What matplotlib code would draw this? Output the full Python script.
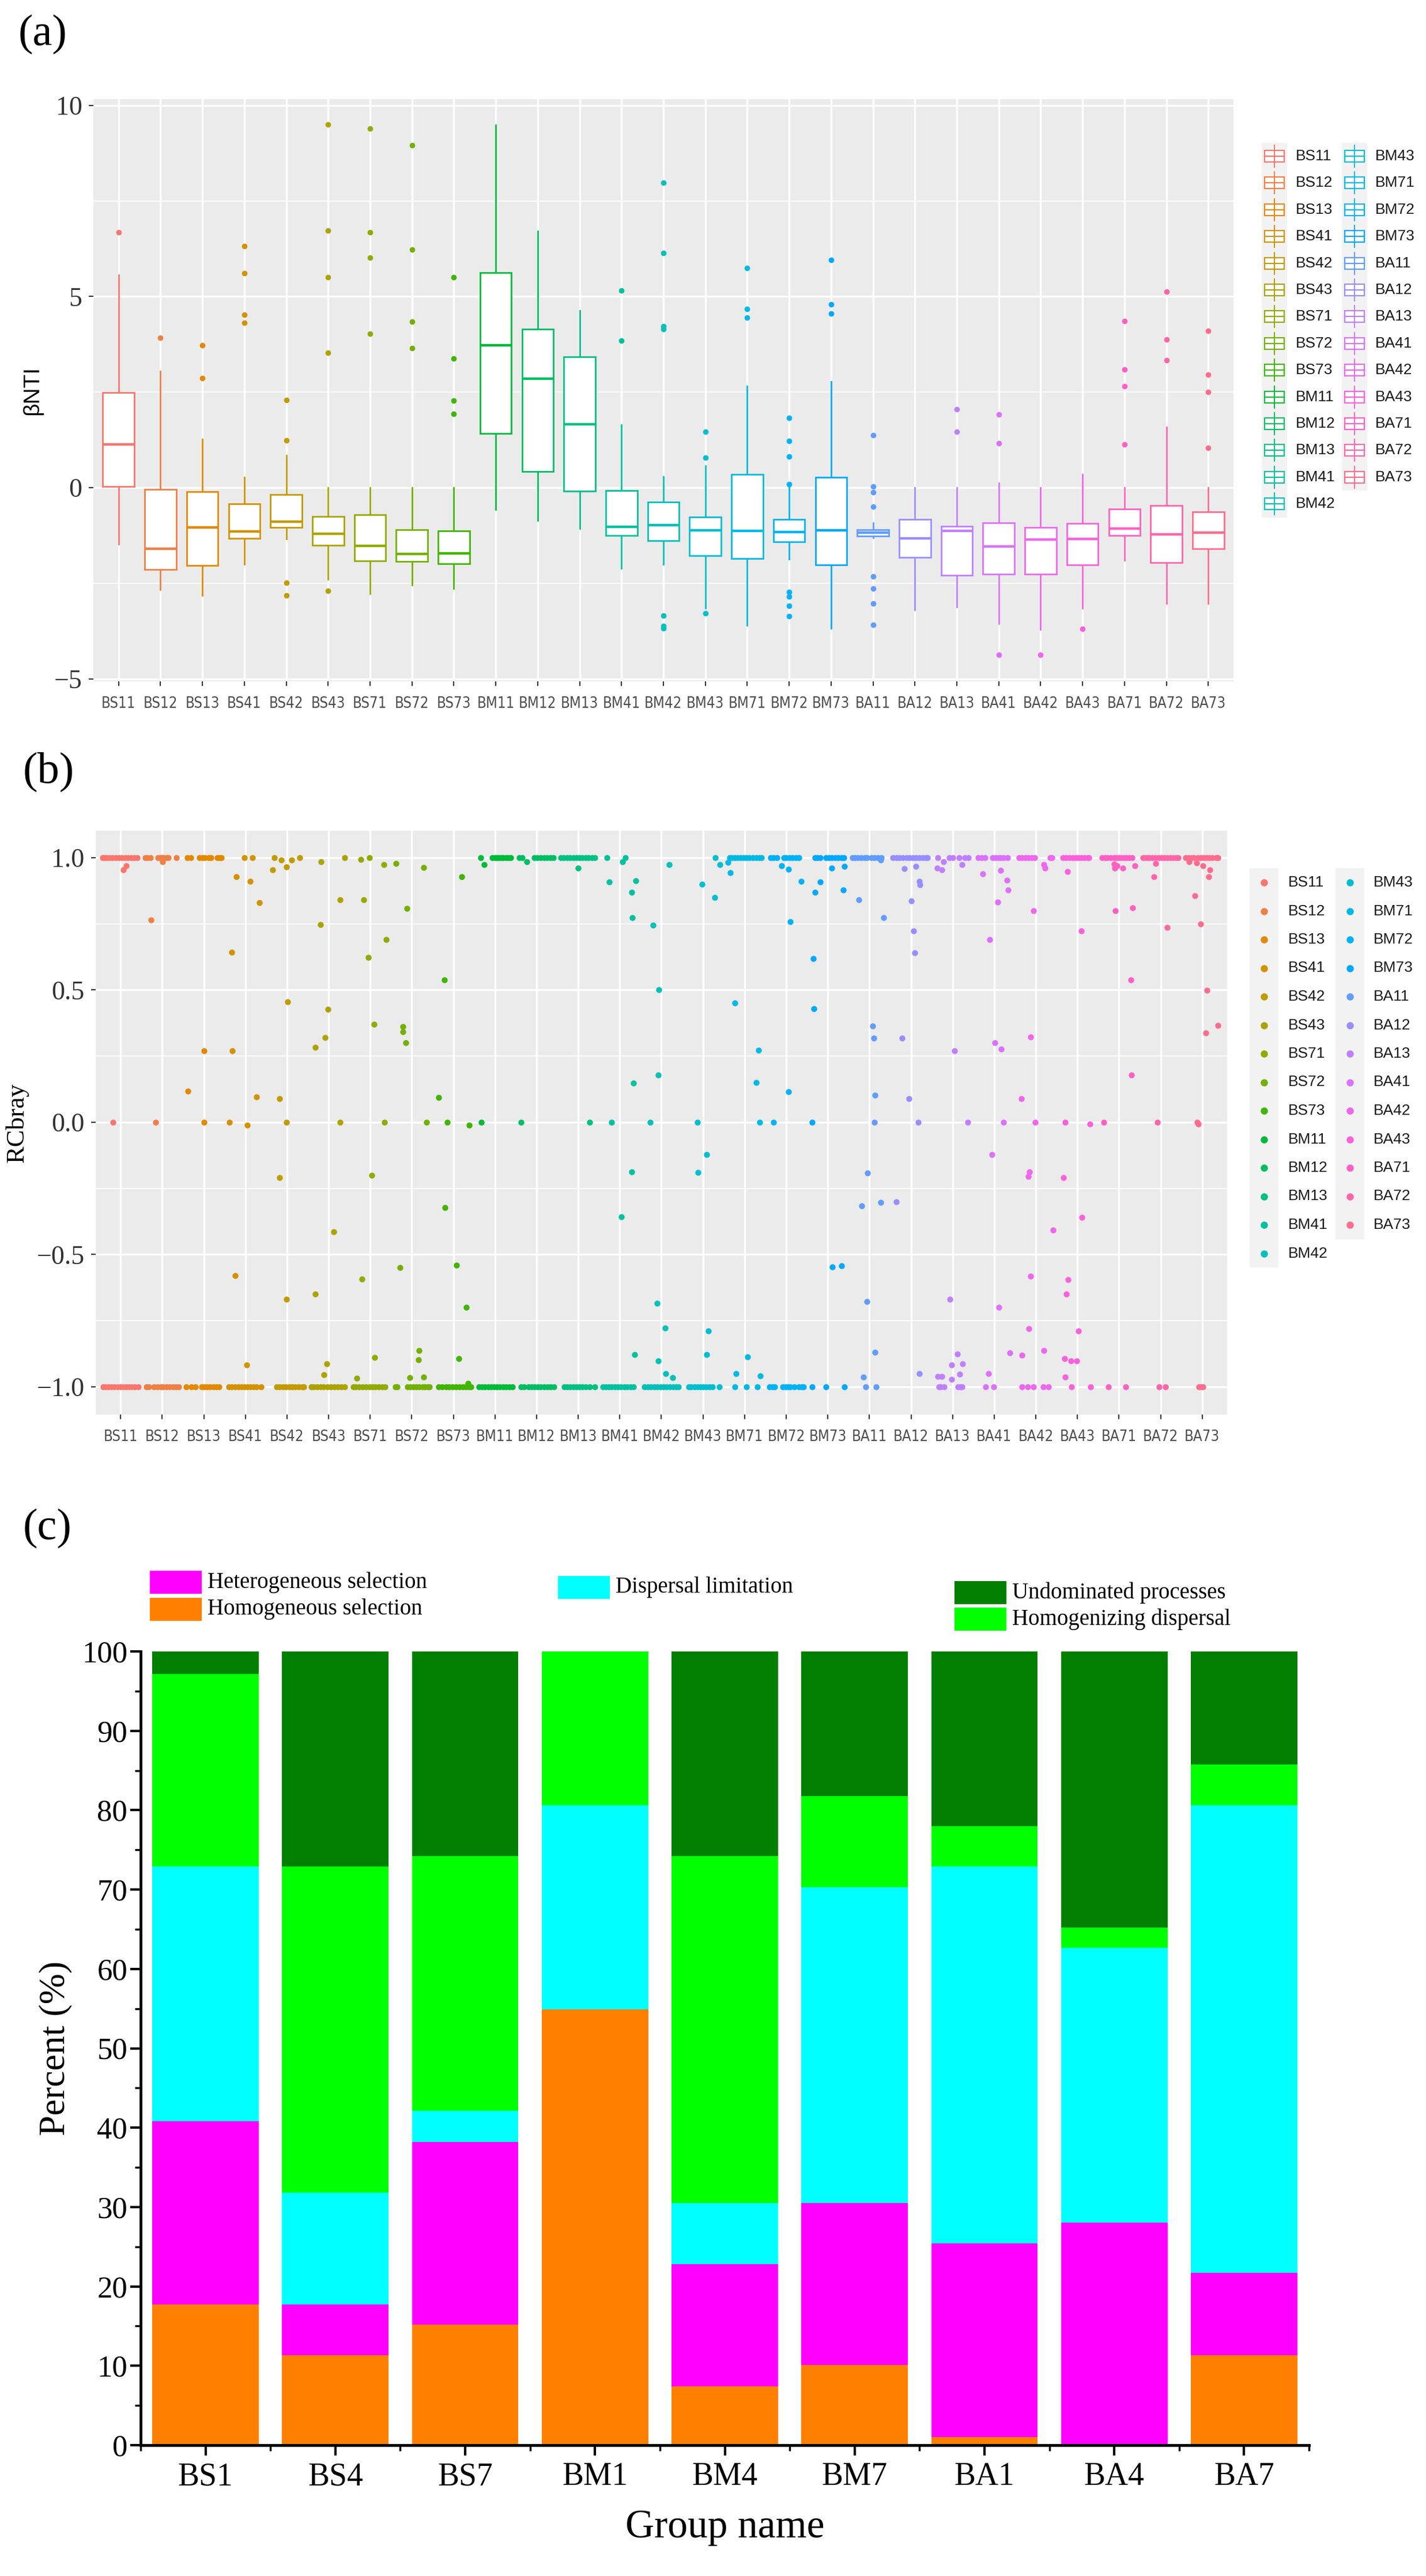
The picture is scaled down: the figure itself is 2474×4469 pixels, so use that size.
import numpy as np
import matplotlib
matplotlib.use("Agg")
import matplotlib.pyplot as plt
from matplotlib.patches import Rectangle
from matplotlib import font_manager as fm
from matplotlib.ticker import MultipleLocator

W, H = 2474, 4469
SERIF = "Liberation Serif"
SANS = "Liberation Sans"

# ---------------- data: (a) betaNTI boxplots ----------------
groups = ["BS11", "BS12", "BS13", "BS41", "BS42", "BS43", "BS71", "BS72", "BS73",
          "BM11", "BM12", "BM13", "BM41", "BM42", "BM43", "BM71", "BM72", "BM73",
          "BA11", "BA12", "BA13", "BA41", "BA42", "BA43", "BA71", "BA72", "BA73"]
bnti_lo = [-1.47, -2.67, -2.81, -2.00, -1.34, -2.39, -2.77, -2.55, -2.64,
           -0.57, -0.85, -1.07, -2.11, -2.00, -3.15, -3.60, -1.86, -3.67,
           -1.31, -3.19, -3.12, -3.56, -3.70, -3.14, -1.89, -3.02, -3.02]
bnti_q1 = [0.04, -2.13, -2.03, -1.32, -1.04, -1.50, -1.91, -1.93, -1.98,
           1.42, 0.42, -0.08, -1.25, -1.39, -1.77, -1.85, -1.41, -2.02,
           -1.27, -1.82, -2.28, -2.25, -2.25, -2.02, -1.24, -1.96, -1.59]
bnti_med = [1.13, -1.59, -1.03, -1.14, -0.88, -1.20, -1.52, -1.73, -1.71,
            3.73, 2.85, 1.66, -1.02, -0.97, -1.11, -1.13, -1.15, -1.11,
            -1.17, -1.32, -1.13, -1.53, -1.36, -1.34, -1.06, -1.22, -1.17]
bnti_q3 = [2.49, -0.04, -0.10, -0.42, -0.18, -0.75, -0.70, -1.10, -1.13,
           5.62, 4.15, 3.42, -0.07, -0.38, -0.77, 0.35, -0.83, 0.28,
           -1.10, -0.83, -1.00, -0.92, -1.04, -0.93, -0.56, -0.47, -0.63]
bnti_hi = [5.57, 3.05, 1.27, 0.28, 0.85, 0.00, 0.00, 0.00, 0.00,
           9.48, 6.71, 4.63, 1.64, 0.29, 0.57, 2.66, 0.00, 2.77,
           -0.92, 0.00, 0.00, 0.13, 0.00, 0.35, 0.00, 1.59, 0.00]
bnti_out = [[6.68], [3.92], [3.73, 2.87], [6.32, 5.61, 4.52, 4.31],
            [2.30, 1.24, -2.49, -2.81], [9.49, 6.73, 5.50, 3.53, -2.70],
            [9.39, 6.68, 6.01, 4.02], [8.96, 6.23, 4.34, 3.65], [5.51, 3.38, 2.28, 1.93],
            [], [], [], [5.15, 3.85],
            [7.97, 6.14, 4.23, 4.15, -3.34, -3.62, -3.67], [1.47, 0.78, -3.28],
            [5.75, 4.68, 4.45], [1.82, 1.22, 0.82, 0.10, -2.73, -2.84, -3.09, -3.35],
            [5.96, 4.80, 4.56],
            [1.38, 0.04, -0.11, -0.49, -2.32, -2.63, -3.02, -3.58], [],
            [2.06, 1.46], [1.91, 1.17, -4.37], [-4.37], [-3.69],
            [4.36, 3.10, 2.66, 1.14], [5.13, 3.87, 3.34], [4.10, 2.96, 2.50, 1.04]]

# ---------------- data: (b) RCbray jittered points ----------------
# per group: jitter offsets of points at 1.0, at -1.0, and other (offset, value) points
rc_top = [
    [-0.43, -0.39, -0.33, -0.27, -0.2, -0.12, -0.05, 0.02, 0.1, 0.18, 0.26, 0.33, 0.4],
    [-0.41, -0.35, -0.29, -0.1, -0.05, 0.0, 0.04, 0.1, 0.15, 0.34],
    [-0.39, -0.32, -0.1, -0.04, 0.02, 0.12, 0.17, 0.33, 0.38, 0.42],
    [-0.02, 0.17],
    [-0.31, 0.31],
    [0.38],
    [-0.02],
    [],
    [],
    [-0.34, -0.06, 0.0, 0.05, 0.1, 0.15, 0.2, 0.26, 0.32, 0.38],
    [-0.41, -0.35, -0.05, 0.02, 0.1, 0.18, 0.25, 0.33, 0.4],
    [-0.42, -0.35, -0.27, -0.2, -0.12, -0.05, 0.03, 0.1, 0.18, 0.25, 0.33, 0.4],
    [-0.31, 0.13],
    [],
    [0.3],
    [-0.36, -0.3, -0.23, -0.16, -0.1, -0.02, 0.05, 0.12, 0.2, 0.28, 0.35, 0.4],
    [-0.37, -0.3, -0.22, -0.06, 0.0, 0.08, 0.15, 0.23, 0.31],
    [-0.31, -0.25, -0.18, -0.05, 0.02, 0.1, 0.18, 0.25, 0.33, 0.38],
    [-0.41, -0.35, -0.28, -0.2, -0.12, -0.06, 0.05, 0.12, 0.2, 0.28],
    [-0.43, -0.36, -0.28, -0.2, -0.1, -0.03, 0.05, 0.12, 0.2, 0.28, 0.35, 0.4],
    [-0.36, -0.08, 0.0, 0.15, 0.3, 0.38],
    [-0.38, -0.3, -0.22, -0.04, 0.03, 0.1, 0.16, 0.23, 0.32],
    [-0.4, -0.33, -0.25, -0.18, -0.1, -0.03, 0.35, 0.39],
    [-0.35, -0.28, -0.2, -0.12, -0.05, 0.02, 0.1, 0.17, 0.25, 0.28],
    [-0.4, -0.34, -0.28, -0.2, -0.12, -0.06, 0.0, 0.05, 0.12, 0.18, 0.25, 0.32],
    [-0.42, -0.38, -0.33, -0.27, -0.2, -0.13, -0.05, 0.02, 0.09, 0.16, 0.23, 0.3, 0.37, 0.42],
    [-0.4, -0.33, -0.26, -0.2, -0.1, -0.04, 0.03, 0.1, 0.17, 0.24, 0.33, 0.38],
]
rc_bot = [
    [-0.42, -0.36, -0.3, -0.22, -0.15, -0.08, 0.0, 0.07, 0.14, 0.2, 0.27, 0.34, 0.42],
    [-0.38, -0.32, -0.2, -0.12, -0.04, 0.02, 0.1, 0.17, 0.25, 0.32, 0.4],
    [-0.42, -0.3, -0.2, -0.05, 0.0, 0.08, 0.15, 0.22, 0.3, 0.37],
    [-0.4, -0.33, -0.25, -0.17, -0.1, -0.02, 0.05, 0.12, 0.2, 0.27, 0.37],
    [-0.25, -0.18, -0.1, -0.03, 0.05, 0.12, 0.2, 0.28, 0.36, 0.4],
    [-0.42, -0.36, -0.28, -0.2, -0.12, -0.03, 0.05, 0.13, 0.22, 0.3, 0.38],
    [-0.41, -0.35, -0.27, -0.18, -0.1, -0.02, 0.05, 0.12, 0.2, 0.28, 0.35],
    [-0.4, -0.36, -0.1, -0.04, 0.03, 0.1, 0.18, 0.25, 0.31, 0.38, 0.42],
    [-0.35, -0.27, -0.18, -0.1, -0.02, 0.06, 0.14, 0.22, 0.3, 0.37, 0.42],
    [-0.38, -0.32, -0.25, -0.17, -0.1, -0.02, 0.05, 0.12, 0.2, 0.27, 0.35, 0.42],
    [-0.37, -0.3, -0.2, -0.12, -0.05, 0.03, 0.1, 0.18, 0.26, 0.33, 0.41],
    [-0.34, -0.27, -0.2, -0.12, -0.05, 0.02, 0.1, 0.18, 0.27, 0.4],
    [-0.41, -0.34, -0.27, -0.2, -0.12, -0.05, 0.03, 0.1, 0.18, 0.26, 0.33],
    [-0.41, -0.33, -0.25, -0.17, -0.1, -0.02, 0.05, 0.12, 0.2, 0.28, 0.35, 0.41],
    [-0.34, -0.28, -0.2, -0.13, -0.06, 0.0, 0.07, 0.16, 0.22, 0.39],
    [-0.24, 0.05, 0.31],
    [-0.4, -0.33, -0.28, -0.08, -0.02, 0.04, 0.1, 0.2, 0.3, 0.38, 0.42],
    [-0.37, -0.04, 0.4],
    [-0.09, 0.16],
    [],
    [-0.33, -0.28, -0.2, 0.13, 0.18, 0.22],
    [-0.21, -0.01],
    [-0.33, -0.2, -0.06, 0.18, 0.3],
    [-0.14, 0.31],
    [-0.25, 0.16],
    [-0.04, 0.12],
    [-0.08, -0.03, 0.02],
]
rc_mid = [
    [(0.13, 0.97), (0.06, 0.953), (-0.18, 0.0)],
    [(0.01, 0.985), (-0.27, 0.765), (-0.16, 0.0)],
    [(-0.38, 0.117), (0.01, 0.27), (0.0, 0.0)],
    [(-0.22, 0.928), (0.11, 0.91), (0.33, 0.83), (-0.33, 0.643), (-0.31, 0.27), (0.26, 0.096),
     (-0.38, 0.0), (0.05, -0.011), (-0.24, -0.58), (0.03, -0.918)],
    [(-0.14, 0.99), (0.11, 0.99), (-0.34, 0.953), (-0.02, 0.964), (0.01, 0.454), (-0.18, 0.089),
     (-0.02, 0.0), (-0.18, -0.209), (-0.02, -0.67)],
    [(-0.18, 0.984), (-0.2, 0.746), (0.28, 0.84), (-0.01, 0.427), (-0.09, 0.319), (-0.32, 0.282),
     (0.28, 0.0), (0.12, -0.414), (-0.32, -0.649), (-0.05, -0.914), (-0.11, -0.954)],
    [(-0.22, 0.993), (0.33, 0.973), (-0.16, 0.84), (0.39, 0.69), (-0.05, 0.623), (0.09, 0.371),
     (0.34, 0.0), (0.04, -0.2), (-0.2, -0.592), (0.1, -0.89), (-0.32, -0.968)],
    [(-0.38, 0.978), (0.28, 0.963), (-0.12, 0.807), (-0.21, 0.361), (-0.21, 0.342), (-0.15, 0.30),
     (0.36, 0.0), (-0.28, -0.549), (0.17, -0.864), (0.16, -0.898), (-0.05, -0.966), (0.28, -0.964)],
    [(0.2, 0.928), (-0.22, 0.537), (-0.36, 0.093), (-0.15, 0.0), (0.38, -0.011), (-0.2, -0.322),
     (0.08, -0.54), (0.31, -0.70), (0.13, -0.894), (0.35, -0.987)],
    [(-0.26, 0.974), (-0.33, 0.0)],
    [(-0.24, 0.985), (-0.37, 0.0)],
    [(0.0, 0.96), (0.28, 0.0)],
    [(0.06, 0.985), (-0.26, 0.908), (0.28, 0.868), (0.38, 0.913), (0.3, 0.772), (-0.2, 0.0),
     (0.33, 0.148), (0.28, -0.188), (0.04, -0.358), (0.36, -0.878)],
    [(0.19, 0.973), (-0.2, 0.744), (-0.06, 0.501), (-0.07, 0.178), (-0.27, 0.0), (-0.1, -0.685),
     (0.09, -0.779), (-0.08, -0.903), (0.11, -0.951), (0.27, -0.966)],
    [(-0.02, 0.9), (0.28, 0.85), (0.41, 0.973), (-0.14, 0.0), (0.09, -0.122), (-0.12, -0.189),
     (0.13, -0.79), (0.09, -0.878)],
    [(-0.4, 0.983), (-0.34, 0.943), (-0.24, 0.45), (0.33, 0.272), (0.28, 0.15), (0.36, 0.0),
     (0.07, -0.888), (-0.21, -0.951), (0.38, -0.96)],
    [(-0.11, 0.97), (0.05, 0.957), (0.36, 0.91), (0.09, 0.758), (0.05, 0.116), (-0.31, 0.0)],
    [(-0.31, 0.868), (-0.18, 0.908), (0.09, 0.96), (0.4, 0.967), (0.37, 0.877), (-0.35, 0.619),
     (-0.33, 0.428), (-0.38, 0.0), (0.11, -0.547), (0.33, -0.543)],
    [(0.27, 0.99), (-0.25, 0.841), (0.34, 0.774), (0.08, 0.364), (0.11, 0.318), (0.13, 0.102),
     (0.12, 0.0), (-0.04, -0.192), (-0.19, -0.317), (0.27, -0.304), (-0.06, -0.679),
     (0.14, -0.87), (-0.15, -0.964)],
    [(-0.16, 0.958), (0.12, 0.967), (0.2, 0.91), (0.22, 0.897), (0.0, 0.837), (0.06, 0.722),
     (0.09, 0.64), (-0.21, 0.318), (-0.05, 0.09), (0.17, 0.0), (-0.35, -0.302), (0.2, -0.95)],
    [(-0.22, 0.985), (0.22, 0.973), (-0.37, 0.96), (-0.26, 0.953), (0.05, 0.27), (0.37, 0.0),
     (-0.07, -0.669), (0.11, -0.877), (0.24, -0.913), (-0.02, -0.918), (0.17, -0.953),
     (-0.35, -0.961), (-0.26, -0.961), (-0.02, -0.973)],
    [(-0.28, 0.938), (0.15, 0.951), (0.31, 0.914), (0.33, 0.878), (0.09, 0.831), (-0.11, 0.69),
     (0.02, 0.30), (0.17, 0.277), (0.23, 0.0), (-0.05, -0.122), (0.11, -0.70), (0.37, -0.872),
     (-0.14, -0.951)],
    [(0.2, 0.973), (0.22, 0.96), (-0.05, 0.8), (-0.13, 0.322), (-0.34, 0.09), (-0.02, 0.0),
     (-0.15, -0.188), (-0.18, -0.205), (0.41, -0.408), (-0.13, -0.582), (-0.17, -0.78),
     (0.2, -0.864), (-0.33, -0.88)],
    [(-0.24, 0.947), (0.09, 0.722), (-0.29, 0.0), (0.3, -0.007), (-0.34, -0.209), (0.11, -0.36),
     (-0.22, -0.595), (-0.27, -0.649), (0.02, -0.79), (-0.31, -0.893), (-0.16, -0.903),
     (-0.02, -0.903), (-0.29, -0.964)],
    [(-0.12, 0.975), (-0.05, 0.97), (-0.1, 0.96), (0.09, 0.96), (0.38, 0.97), (-0.09, 0.80),
     (0.33, 0.81), (0.28, 0.537), (0.3, 0.179), (-0.36, 0.0)],
    [(-0.12, 0.978), (-0.16, 0.927), (0.16, 0.736), (-0.07, 0.0)],
    [(-0.31, 0.985), (-0.13, 0.98), (0.02, 0.97), (0.18, 0.953), (0.15, 0.927), (-0.18, 0.855),
     (-0.04, 0.748), (0.11, 0.499), (0.38, 0.365), (0.09, 0.337), (-0.09, -0.006), (-0.12, 0.0)],
]

# ---------------- data: (c) stacked process percentages ----------------
groups_c = ["BS1", "BS4", "BS7", "BM1", "BM4", "BM7", "BA1", "BA4", "BA7"]
homog_sel = [17.7, 11.3, 15.2, 54.9, 7.4, 10.1, 1.0, 0.0, 11.3]
heterog_sel = [23.1, 6.4, 23.0, 0.0, 15.4, 20.4, 24.4, 28.0, 10.4]
disp_lim = [32.1, 14.1, 3.9, 25.7, 7.7, 39.8, 47.5, 34.7, 58.9]
homogenizing = [24.3, 41.1, 32.1, 19.4, 43.7, 11.5, 5.1, 2.5, 5.2]
undominated = [2.8, 27.1, 25.8, 0.0, 25.8, 18.2, 22.0, 34.8, 14.2]


def hue_pal(n, c=100.0, l=65.0):
    # ggplot2 default discrete palette (polar Luv, D65)
    Xn, Yn, Zn = 95.047, 100.0, 108.883
    un = 4 * Xn / (Xn + 15 * Yn + 3 * Zn)
    vn = 9 * Yn / (Xn + 15 * Yn + 3 * Zn)
    M = np.array([[3.2404542, -1.5371385, -0.4985314],
                  [-0.9692660, 1.8760108, 0.0415560],
                  [0.0556434, -0.2040259, 1.0572252]])
    out = []
    for h in np.linspace(15, 375, n + 1)[:n]:
        u, v = c * np.cos(np.radians(h)), c * np.sin(np.radians(h))
        Y = Yn * ((l + 16) / 116) ** 3
        up, vp = u / (13 * l) + un, v / (13 * l) + vn
        X = Y * 9 * up / (4 * vp)
        Z = Y * (12 - 3 * up - 20 * vp) / (4 * vp)
        rgb = np.clip(M @ (np.array([X, Y, Z]) / 100), 0, 1)
        rgb = np.where(rgb <= 0.0031308, 12.92 * rgb, 1.055 * rgb ** (1 / 2.4) - 0.055)
        out.append(tuple(np.clip(rgb, 0, 1)))
    return out


cols = hue_pal(len(groups))
names = {f.name for f in fm.fontManager.ttflist}
if "Liberation Sans Narrow" in names:
    tick_font = dict(family="Liberation Sans Narrow", fontsize=21)
else:
    tick_font = dict(family="DejaVu Sans", stretch="condensed", fontsize=18.5)


def gg_axes(ax, ylim, ymajor, yminor, ylabels):
    ax.set_facecolor("#EBEBEB")
    for s in ax.spines.values():
        s.set_visible(False)
    ax.set_xlim(-0.6, len(groups) - 0.4)
    ax.set_ylim(*ylim)
    ax.set_xticks(range(len(groups)))
    ax.set_xticklabels(groups, color="#4D4D4D", **tick_font)
    ax.set_yticks(ymajor)
    ax.set_yticklabels(ylabels, family=SERIF, fontsize=33, color="#333333")
    ax.set_yticks(yminor, minor=True)
    ax.tick_params(axis="both", which="major", length=6, width=1.5, color="#333333")
    ax.tick_params(axis="x", pad=13)
    ax.tick_params(axis="y", pad=8)
    ax.tick_params(which="minor", length=0)
    ax.grid(which="major", color="white", lw=2.4)
    ax.grid(which="minor", axis="y", color="white", lw=1.2)
    ax.set_axisbelow(True)


fig = plt.figure(figsize=(W / 100, H / 100), dpi=100)
lay = fig.add_axes([0, 0, 1, 1])
lay.set_xlim(0, W)
lay.set_ylim(H, 0)
lay.axis("off")

# ---------------- (a) ----------------
axa = fig.add_axes([162 / W, 1 - 1182 / H, (2140 - 162) / W, (1182 - 172) / H])
stats = []
for i in range(len(groups)):
    stats.append(dict(med=bnti_med[i], q1=bnti_q1[i], q3=bnti_q3[i],
                      whislo=bnti_lo[i], whishi=bnti_hi[i], fliers=bnti_out[i]))
art = axa.bxp(stats, positions=range(len(groups)), widths=0.75, showcaps=False,
              patch_artist=True, manage_ticks=False)
for i, c in enumerate(cols):
    art["boxes"][i].set(facecolor="white", edgecolor=c, lw=2.0, zorder=3)
    art["medians"][i].set(color=c, lw=3.2, zorder=4)
    for w in art["whiskers"][2 * i:2 * i + 2]:
        w.set(color=c, lw=2.0, zorder=2)
    art["fliers"][i].set(marker="o", markerfacecolor=c, markeredgecolor="none", markersize=7)
gg_axes(axa, (-5.06, 10.16), [-5, 0, 5, 10], [-2.5, 2.5, 7.5], ["\u22125", "0", "5", "10"])
axa.set_ylabel("\u03b2NTI", family=SANS, fontsize=28, labelpad=14)

# legend (a)
row_a = [271 + 46.4 * k for k in range(14)]
for col, (kx, tx) in enumerate([(2211, 2248), (2350, 2386)]):
    idx = range(0, 14) if col == 0 else range(14, 27)
    nrow = len(idx)
    lay.add_patch(Rectangle((kx - 22, row_a[0] - 23), 44, 46.4 * nrow, fc="#F2F2F2", ec="none"))
    for r, gi in enumerate(idx):
        y = row_a[r]
        c = cols[gi]
        lay.plot([kx, kx], [y - 19, y + 19], color=c, lw=1.4)
        lay.add_patch(Rectangle((kx - 17, y - 10), 34, 20, fc="white", ec=c, lw=1.6))
        lay.plot([kx - 17, kx + 17], [y, y], color=c, lw=1.6)
        lay.text(tx, y, groups[gi], va="center", ha="left", family=SANS, fontsize=19, color="#1A1A1A")

# ---------------- (b) ----------------
axb = fig.add_axes([166 / W, 1 - 2454 / H, (2129 - 166) / W, (2454 - 1441) / H])
for i, c in enumerate(cols):
    xs = [i + d for d in rc_top[i]] + [i + d for d in rc_bot[i]] + [i + d for d, _ in rc_mid[i]]
    ys = [1.0] * len(rc_top[i]) + [-1.0] * len(rc_bot[i]) + [v for _, v in rc_mid[i]]
    axb.plot(xs, ys, "o", color=c, mec="none", ms=7.5, zorder=3)
gg_axes(axb, (-1.105, 1.102), [-1, -0.5, 0, 0.5, 1], [-0.75, -0.25, 0.25, 0.75],
        ["\u22121.0", "\u22120.5", "0.0", "0.5", "1.0"])
axb.set_ylabel("RCbray", family=SERIF, fontsize=32, labelpad=10)

# legend (b)
row_b = [1531 + 49.5 * k for k in range(14)]
for col, (kx, tx) in enumerate([(2193, 2235), (2342, 2383)]):
    idx = range(0, 14) if col == 0 else range(14, 27)
    nrow = len(idx)
    lay.add_patch(Rectangle((kx - 25, row_b[0] - 25), 50, 49.5 * nrow, fc="#F2F2F2", ec="none"))
    for r, gi in enumerate(idx):
        y = row_b[r]
        lay.plot([kx], [y], "o", color=cols[gi], mec="none", ms=9)
        lay.text(tx, y, groups[gi], va="center", ha="left", family=SANS, fontsize=19, color="#1A1A1A")

# ---------------- (c) ----------------
axc = fig.add_axes([244 / W, 1 - 4242 / H, (2271 - 244) / W, (4242 - 2865) / H])
layers = [(homog_sel, "#FF8000"), (heterog_sel, "#FF00FF"), (disp_lim, "#00FFFF"),
          (homogenizing, "#00FF00"), (undominated, "#007F00")]
x = np.arange(len(groups_c))
bottom = np.zeros(len(groups_c))
for vals, c in layers:
    axc.bar(x, vals, bottom=bottom, width=0.82, color=c, edgecolor="none")
    bottom += np.array(vals)
axc.set_xlim(-0.5, len(groups_c) - 0.5)
axc.set_ylim(0, 100)
for s in ["top", "right"]:
    axc.spines[s].set_visible(False)
for s in ["left", "bottom"]:
    axc.spines[s].set_linewidth(3.5)
axc.set_xticks(x)
axc.set_xticklabels(groups_c, family=SERIF, fontsize=40)
axc.set_xticks(np.arange(-0.5, len(groups_c)), minor=True)
axc.yaxis.set_major_locator(MultipleLocator(10))
axc.yaxis.set_minor_locator(MultipleLocator(5))
for lab in axc.get_yticklabels():
    lab.set_family(SERIF)
    lab.set_fontsize(38)
axc.tick_params(which="major", direction="out", length=13, width=3)
axc.tick_params(which="minor", direction="out", length=7, width=2.5)
axc.tick_params(axis="x", pad=8)
axc.set_xlabel("Group name", family=SERIF, fontsize=50, labelpad=22)
axc.set_ylabel("Percent (%)", family=SERIF, fontsize=46, labelpad=12)

# legend (c)
leg_c = [(260, 2725, "#FF00FF", "Heterogeneous selection"),
         (260, 2772, "#FF8000", "Homogeneous selection"),
         (968, 2734, "#00FFFF", "Dispersal limitation"),
         (1656, 2743, "#007F00", "Undominated processes"),
         (1656, 2789, "#00FF00", "Homogenizing dispersal")]
for lx, ly, c, txt in leg_c:
    lay.add_patch(Rectangle((lx, ly), 90, 40, fc=c, ec="none"))
    lay.text(lx + 100, ly + 20, txt, va="center", ha="left", family=SERIF, fontsize=28)

# panel tags
for tx, ty, t in [(32, 25, "(a)"), (40, 1305, "(b)"), (40, 2617, "(c)")]:
    lay.text(tx, ty, t, va="top", ha="left", family=SERIF, fontsize=55)

fig.savefig("out.png", dpi=100)
